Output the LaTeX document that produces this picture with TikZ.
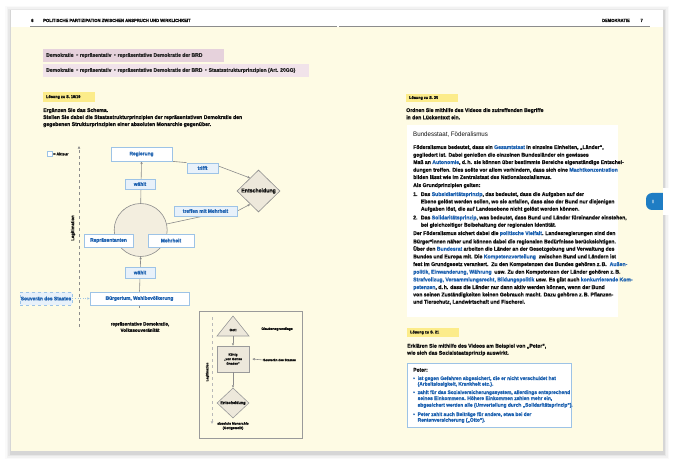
\documentclass[tikz,border=0pt]{standalone}
\usepackage{fontspec}
\setmainfont{Liberation Sans}[FakeStretch=0.95, BoldFeatures={FakeBold=1.2}]
\newfontfamily\dejavu{DejaVu Sans}
\usetikzlibrary{arrows.meta,shapes.geometric,calc}
\pgfdeclarelayer{pagebg}
\pgfdeclarelayer{wires}
\pgfsetlayers{pagebg,wires,main}
\definecolor{cream}{HTML}{FEFBE4}
\definecolor{labelyellow}{HTML}{FCEC8A}
\definecolor{crumbA}{HTML}{E6D2DC}
\definecolor{crumbB}{HTML}{F1E3EA}
\definecolor{txtblue}{HTML}{1E62B0}
\definecolor{boxblue}{HTML}{9DC3E6}
\definecolor{verbfill}{HTML}{E8F1FA}
\definecolor{circfill}{HTML}{F3EEDF}
\definecolor{diafill}{HTML}{EDE8DB}
\definecolor{linegray}{HTML}{8C8C8C}
\definecolor{framegray}{HTML}{9A9A9A}
\definecolor{tabblue}{HTML}{1F7DC4}
\definecolor{txtdark}{HTML}{111111}
\newcommand\fz[2]{\fontsize{#1}{#2}\selectfont}
\newcommand\hl[1]{\textcolor{txtblue}{#1}}
\newcommand\crar{\hspace{3pt}{\dejavu\fontsize{4}{4}\selectfont ▸}\hspace{1.2pt}}
\begin{document}
\begin{tikzpicture}[x=1pt,y=-1pt,
  actor/.style={draw=boxblue, fill=white, line width=0.7pt, text=txtblue, font=\fz{5.1}{6}\bfseries, inner sep=0pt, align=center},
  verb/.style={actor, fill=verbfill},
  conn/.style={draw=linegray, line width=0.6pt},
  arr/.style={conn, -{Triangle[length=2.4pt,width=2.2pt]}},
  txt/.style={inner sep=0pt, font=\fz{5}{6}\bfseries, text=txtdark},
  para/.style={inner sep=0pt, font=\fz{5.4}{7}\bfseries, text=txtdark, anchor=base west},
  hdr/.style={inner sep=0pt, font=\fz{4.4}{5}\bfseries, text=txtdark},
  crumbtxt/.style={inner sep=0pt, font=\fz{5.3}{6}\bfseries, text=txtdark!90, anchor=west},
  soltxt/.style={inner sep=0pt, anchor=west, text=txtdark, font=\fz{4}{5}\bfseries},
  small/.style={inner sep=0pt, font=\fz{3.5}{4.4}\bfseries, text=txtdark, align=center},
  blt/.style={para, text=txtblue, font=\fz{5.1}{6}\bfseries},
]
\useasboundingbox (0,0) rectangle (677,465);
\begin{pgfonlayer}{pagebg}
  \fill[white] (0,0) rectangle (677,465);
  \foreach \i/\o in {6/0.02,4.5/0.03,3/0.045,1.5/0.07} {
    \fill[black,opacity=\o] (11-\i,10-\i+2) rectangle (663+\i,451+\i+2);
  }
  \fill[white] (11,10) rectangle (663,451);
  \fill[cream] (11,27) rectangle (663,451);
  % breadcrumb bars
  \fill[crumbA] (43,49) rectangle (224,62);
  \fill[crumbB] (43,64) rectangle (309,77);
  % solution labels
  \fill[labelyellow] (43,92) rectangle (95,102);
  \fill[labelyellow] (406,94) rectangle (458,102);
  \fill[labelyellow] (407,328) rectangle (459,337);
  % white text panel right
  \fill[white] (407,125) rectangle (618,317);
  % tab
  \fill[tabblue, rounded corners=6pt] (646,193) rectangle (670,210);
  \fill[white] (663,188) rectangle (677,215);
\end{pgfonlayer}

% header
\draw[linegray, line width=1.3pt] (30,26.5) -- (337,26.5);
\draw[linegray, line width=1.3pt] (339,26.5) -- (650,26.5);
\node[hdr, anchor=base west] (pnumL) at (31,22) {6};
\node[hdr, anchor=base west] (htitle) at (43,22) {POLITISCHE PARTIZIPATION ZWISCHEN ANSPRUCH UND WIRKLICHKEIT};
\node[hdr, anchor=base east] (hright) at (630,22) {DEMOKRATIE};
\node[hdr, anchor=base east] (pnumR) at (643,22) {7};

% breadcrumbs
\node[crumbtxt] (crumbone) at (46,55.5) {Demokratie\crar repräsentativ\crar repräsentative Demokratie der BRD};
\node[crumbtxt] (crumbtwo) at (46,70.5) {Demokratie\crar repräsentativ\crar repräsentative Demokratie der BRD\crar Staatsstrukturprinzipien (Art. 20GG)};

% left task
\node[soltxt] (solA) at (46,97) {Lösung zu S. 18/19};
\node[para] (insA1) at (43,112) {Ergänzen Sie das Schema.};
\node[para] (insA2) at (43,119) {Stellen Sie dabei die Staatsstrukturprinzipien der repräsentativen Demokratie den};
\node[para] (insA3) at (43,126) {gegebenen Strukturprinzipien einer absoluten Monarchie gegenüber.};

% legend
\node[actor, minimum width=5pt, minimum height=4.5pt] (legbox) at (49.5,154) {};
\node[txt, anchor=west, font=\fz{4}{5}\bfseries] (legtxt) at (53,154) {= Akteur};

% left diagram nodes
\node[actor, minimum width=61pt, minimum height=14pt] (regierung) at (141.5,154) {Regierung};
\node[circle, draw=linegray, fill=circfill, line width=0.6pt, minimum size=53pt, inner sep=0pt] (circ) at (140.7,230) {};
\node[verb, minimum width=30pt, minimum height=10pt] (waehltA) at (140,184) {wählt};
\node[verb, minimum width=31pt, minimum height=10pt] (trifft) at (202.5,168) {trifft};
\node[diamond, draw=linegray, fill=diafill, line width=0.6pt, minimum width=43pt, minimum height=42pt, inner sep=0pt, font=\fz{5.5}{7}\bfseries, text=txtdark] (entsch) at (258.5,191) {Entscheidung};
\node[verb, minimum width=63pt, minimum height=10pt] (treffen) at (205.5,211) {treffen mit Mehrheit};
\node[actor, minimum width=49pt, minimum height=13pt] (repr) at (108.5,240.5) {Repräsentanten};
\node[actor, minimum width=46pt, minimum height=13pt] (mehrheit) at (171,240.5) {Mehrheit};
\node[verb, minimum width=30pt, minimum height=11pt] (waehltB) at (140,272.5) {wählt};
\node[actor, minimum width=99pt, minimum height=13pt] (buerger) at (139.5,298.5) {Bürgertum, Wahlbevölkerung};
\node[verb, dashed, minimum width=52pt, minimum height=13pt] (souv) at (46,298.5) {Souverän des Staates};
\node[txt, align=center, font=\fz{4.8}{6.3}\bfseries] (reprdem) at (140,327) {repräsentative Demokratie,\\Volkssouveränität};
\node[txt, rotate=90, font=\fz{4.5}{6}\bfseries] (legit) at (73,228) {Legitimation};
\coordinate (legtop) at (79,146);
\coordinate (legbot) at (79,327);

\begin{pgfonlayer}{wires}
  \draw[arr] (circ.north) -- (regierung.south);
  \draw[conn] (regierung.south east) -- (trifft.north west);
  \draw[arr] ([yshift=2pt]trifft.east) -- (entsch.123);
  \draw[conn] (circ.13) -- ($(treffen.south west)!0.45!(treffen.south east)$);
  \draw[arr] (treffen.east) -- (entsch.238);
  \draw[conn] (circ.130) -- (circ.center) -- (circ.south);
  \draw[arr] (buerger.north) -- (circ.south);
  \draw[conn] (buerger.south) -- ++(0,3);
  \draw[boxblue, line width=0.6pt, dotted, -{Triangle[length=2.4pt,width=2.2pt]}] (souv.east) -- (buerger.west);
  \draw[linegray, line width=0.6pt, dashed, -{Triangle[length=2.6pt,width=2.4pt]}] (legbot) -- (legtop);
\end{pgfonlayer}

% small diagram (absolute monarchy)
\draw[framegray, line width=0.7pt] (199,311) rectangle (302,438);
\coordinate (smtop) at (212,317);
\coordinate (smbot) at (212,424);
\draw[gray!55, line width=1pt, dashed, -{Triangle[length=2.6pt,width=2.4pt]}] (smtop) -- (smbot);
\node[small, rotate=90, font=\fz{3.3}{4}\bfseries] (smlegit) at (207.5,372) {Legitimation};
\coordinate (gapex) at (233,316);
\coordinate (gbase) at (233,336);
\filldraw[draw=framegray, fill=diafill, line width=0.6pt] (gapex) -- (249,336) -- (217,336) -- cycle;
\node[small] (gott) at (233,330) {Gott};
\node[small] (glaube) at (277,329) {Glaubensgrundlage};
\node[rectangle, draw=framegray, fill=diafill, line width=0.6pt, minimum width=32pt, minimum height=26pt, inner sep=0pt, small, font=\fz{3.3}{4.5}\bfseries] (koenig) at (233,359) {König\\„von Gottes\\Gnaden“};
\node[small, anchor=west, font=\fz{3.3}{4.2}\bfseries] (souvB) at (263,360) {Souverän des Staates};
\node[diamond, draw=framegray, fill=diafill, line width=0.6pt, minimum width=32pt, minimum height=30pt, inner sep=0pt] (entschB) at (233,403) {};
\node[small, font=\fz{4.0}{5}\bfseries] (entschBt) at (233,403) {Entscheidung};
\node[small] (absmon) at (233,426) {absolute Monarchie\\(Gottgewollt)};
\draw[arr] (gbase) -- (koenig.north);
\draw[arr] (souvB.west) -- ([xshift=3pt]koenig.east);
\draw[arr] (koenig.south) -- (entschB.north);

% right page: task 2
\node[soltxt] (solB) at (409,98) {Lösung zu S. 20};
\node[para] (insB1) at (406,112) {Ordnen Sie mithilfe des Videos die zutreffenden Begriffe};
\node[para] (insB2) at (406,119.3) {in den Lückentext ein.};
\node[para, font=\fz{6.5}{8}] (title) at (413,136.7) {Bundesstaat, Föderalismus};
\node[para] (p1) at (413,149) {Föderalismus bedeutet, dass ein \hl{Gesamtstaat} in einzelne Einheiten, „Länder“,};
\node[para] (p2) at (413,156.7) {gegliedert ist. Dabei genießen die einzelnen Bundesländer ein gewisses};
\node[para] (p3) at (413,164) {Maß an \hl{Autonomie}, d.\,h. sie können über bestimmte Bereiche eigenständige Entschei-};
\node[para] (p4) at (413,171.7) {dungen treffen. Dies sollte vor allem verhindern, dass sich eine \hl{Machtkonzentration}};
\node[para] (p5) at (413,179) {bilden lässt wie im Zentralstaat des Nationalsozialismus.};
\node[para] (p6) at (413,187) {Als Grundprinzipien gelten:};
\node[para] (n1) at (413,196) {1.};
\node[para] (p7) at (420.7,196) {Das \hl{Subsidiaritätsprinzip}, das bedeutet, dass die Aufgaben auf der};
\node[para] (p8) at (420.7,203.4) {Ebene gelöst werden sollen, wo sie anfallen, dass also der Bund nur diejenigen};
\node[para] (p9) at (420.7,210.7) {Aufgaben löst, die auf Landesebene nicht gelöst werden können.};
\node[para] (n2) at (413,219.4) {2.};
\node[para] (p10) at (420.7,219.4) {Das \hl{Solidaritätsprinzip}, was bedeutet, dass Bund und Länder füreinander einstehen,};
\node[para] (p11) at (420.7,226.7) {bei gleichzeitiger Beibehaltung der regionalen Identität.};
\node[para] (p12) at (413,235) {Der Föderalismus sichert dabei die \hl{politische Vielfalt}. Landesregierungen sind den};
\node[para] (p13) at (413,243.4) {Bürger*innen näher und können dabei die regionalen Bedürfnisse berücksichtigen.};
\node[para] (p14) at (413,250.7) {Über den \hl{Bundesrat} arbeiten die Länder an der Gesetzgebung und Verwaltung des};
\node[para] (p15) at (413,258.4) {Bundes und Europa mit. Die \hl{Kompetenzverteilung}\ \ zwischen Bund und Ländern ist};
\node[para] (p16) at (413,266) {fest im Grundgesetz verankert.\ \ Zu den Kompetenzen des Bundes gehören z.\,B.\ \ \hl{Außen-}};
\node[para] (p17) at (413,273.7) {\hl{politik, Einwanderung, Währung}\ \ usw. Zu den Kompetenzen der Länder gehören z.\,B.};
\node[para] (p18) at (413,281.4) {\hl{Strafvollzug, Versammlungsrecht, Bildungspolitik} usw. Es gibt auch \hl{konkurrierende Kom-}};
\node[para] (p19) at (413,289) {\hl{petenzen}, d.\,h. dass die Länder nur dann aktiv werden können, wenn der Bund};
\node[para] (p20) at (413,296.4) {von seinen Zuständigkeiten keinen Gebrauch macht. Dazu gehören z.\,B. Pflanzen-};
\node[para] (p21) at (413,303.7) {und Tierschutz, Landwirtschaft und Fischerei.};

% tab letter
\node[inner sep=0pt, font=\fz{5}{6}\bfseries, text=white] (tabI) at (653,201.5) {I};

% right page: task 3
\node[soltxt] (solC) at (410,332.5) {Lösung zu S. 21};
\node[para] (insC1) at (407,347.7) {Erklären Sie mithilfe des Videos am Beispiel von „Peter“,};
\node[para] (insC2) at (407,354.7) {wie sich das Sozialstaatsprinzip auswirkt.};
\node[draw=boxblue, fill=white, line width=0.8pt, minimum width=164pt, minimum height=64pt, inner sep=0pt, anchor=north west] (peterbox) at (407,363) {};
\node[para] (peter) at (413,371.7) {Peter:};
\node[blt] (b1) at (413,380) {•};
\node[blt] (b1a) at (417.5,380) {ist gegen Gefahren abgesichert, die er nicht verschuldet hat};
\node[blt] (b1b) at (417.5,385.7) {(Arbeitslosigkeit, Krankheit etc.).};
\node[blt] (b2) at (413,394) {•};
\node[blt] (b2a) at (417.5,394) {zahlt für das Sozialversicherungssystem, allerdings entsprechend};
\node[blt] (b2b) at (417.5,400) {seines Einkommens. Höhere Einkommen zahlen mehr ein,};
\node[blt] (b2c) at (417.5,406.7) {abgesichert werden alle (Umverteilung durch „Solidaritätsprinzip“).};
\node[blt] (b3) at (413,416) {•};
\node[blt] (b3a) at (417.5,416) {Peter zahlt auch Beiträge für andere, etwa bei der};
\node[blt] (b3b) at (417.5,421.7) {Rentenversicherung („Otto“).};
\end{tikzpicture}
\end{document}
